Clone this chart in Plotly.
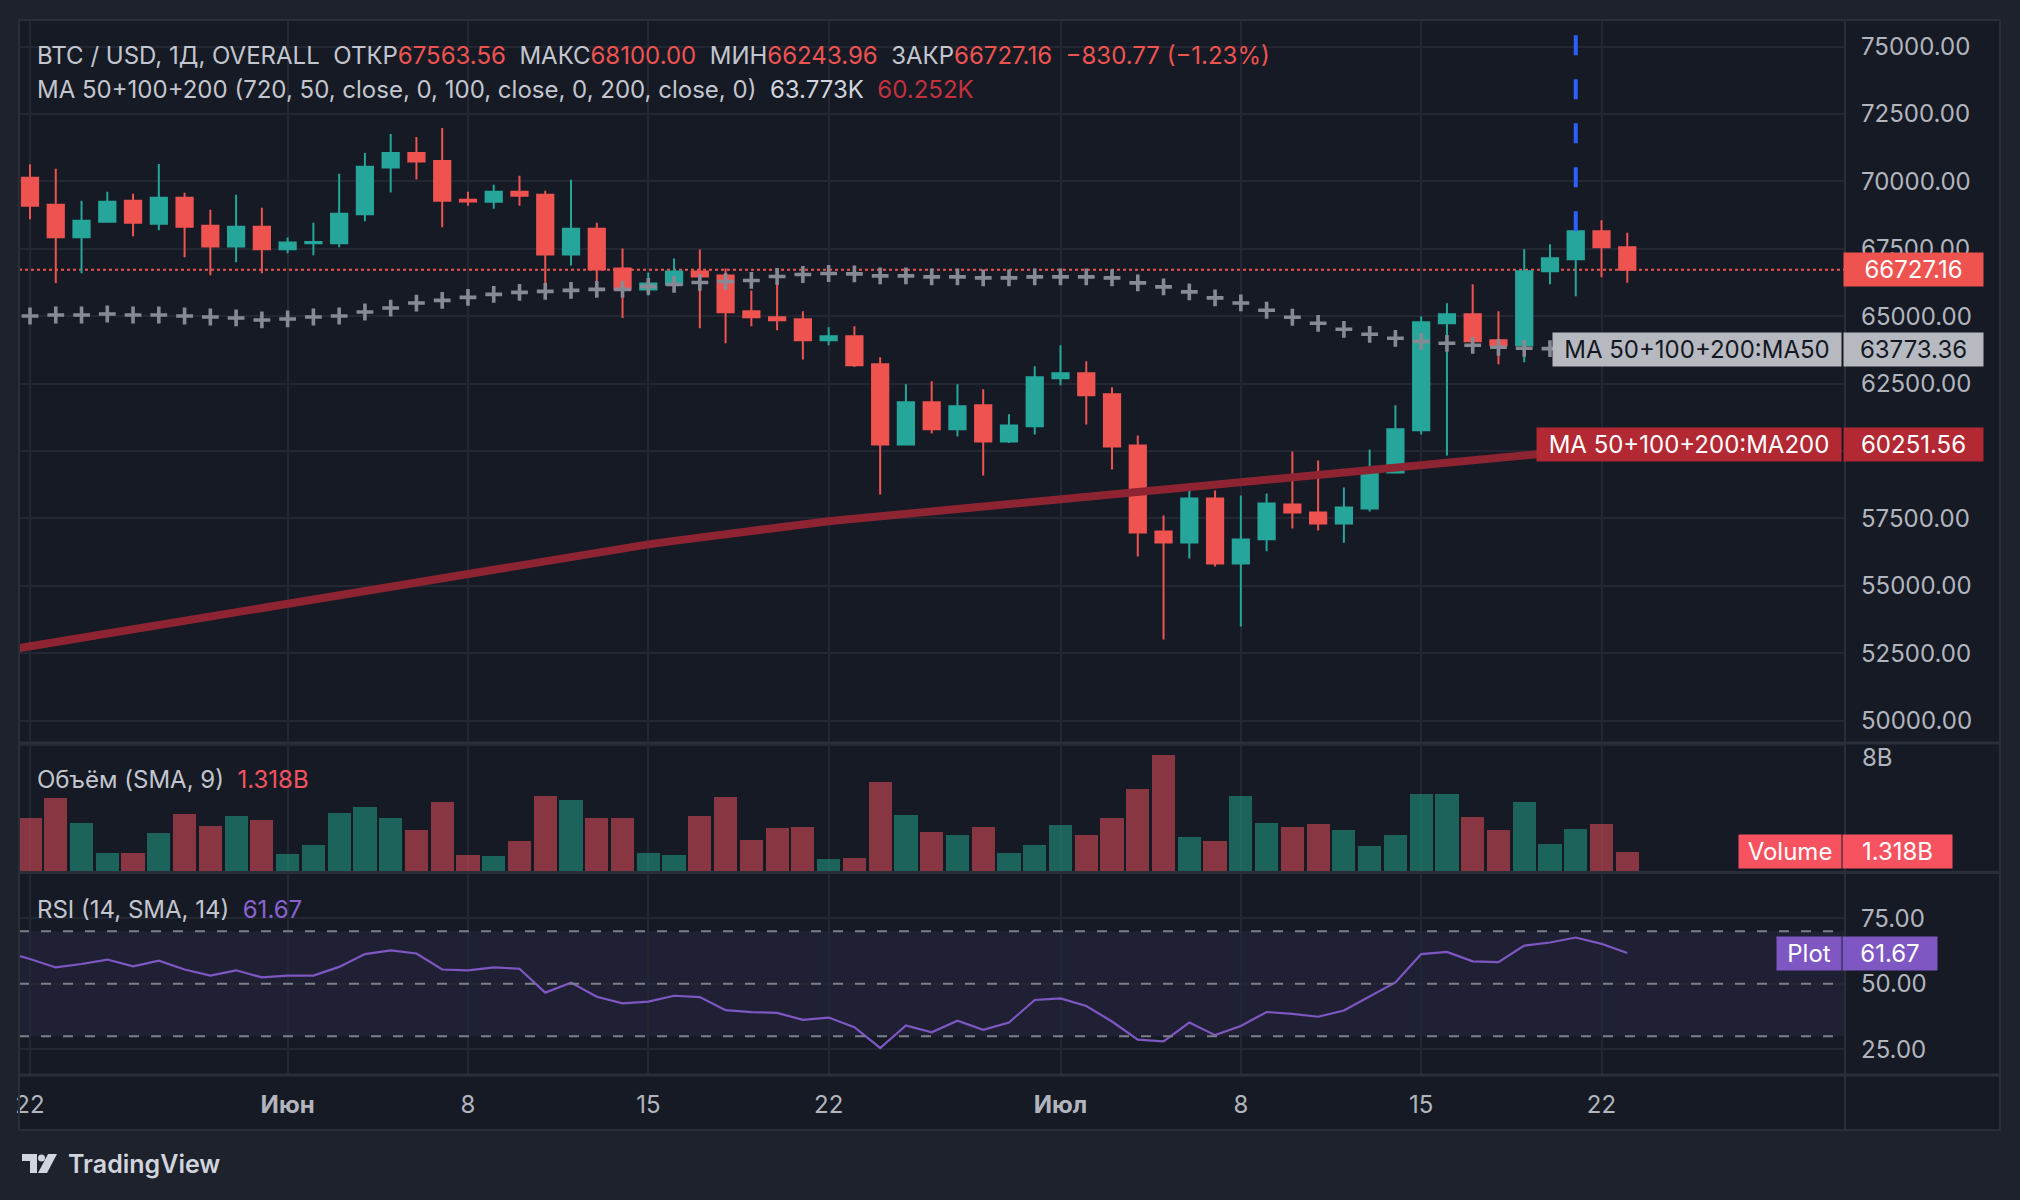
import pandas as pd
import plotly.graph_objects as go

# daily candles, May 22 - Jul 23
dates = pd.date_range("2024-05-22", "2024-07-23", freq="D")
# the line series start one day earlier so they run into the left edge
line_dates = pd.date_range("2024-05-21", "2024-07-23", freq="D")

open_ = [
    70136, 69138, 67930, 68509, 69285, 68435, 69396, 68361, 67585, 68324,
    67487, 67709, 67709, 68780, 70517, 71060, 70764, 69322, 69248, 69618,
    69507, 67290, 68250, 66772, 65996, 66181, 66661, 66513, 65183, 64961,
    64887, 64111, 64257, 63218, 60248, 61807, 60805, 61696, 60359, 60916,
    62698, 62884, 62104, 60211, 57018, 56609, 58243, 55830, 56730, 58020,
    57723, 57314, 57871, 59208, 60768, 64740, 65074, 64109, 63923, 66671,
    67116, 68156, 67563.56]
high = [
    70641, 70468, 69285, 69618, 69544, 70653, 69581, 68953, 69507, 69027,
    67918, 68472, 70283, 71060, 71762, 71651, 71984, 69618, 69877, 70209,
    69655, 70062, 68472, 67512, 66624, 67142, 67474, 66772, 65959, 66700,
    65183, 64591, 64629, 63478, 62475, 62587, 62475, 62290, 61362, 63144,
    63923, 63329, 62364, 60582, 57610, 58539, 58539, 58354, 58428, 59988,
    59654, 58651, 60062, 61696, 65000, 65483, 66188, 65186, 67488, 67673,
    68400, 68564, 68100.00]
low = [
    68596, 66230, 66600, 68472, 67967, 68189, 67191, 66526, 67006, 66600,
    67339, 67265, 67561, 68522, 69593, 70074, 68300, 69100, 68990, 69100,
    65996, 66883, 66193, 64937, 65774, 65959, 64554, 64000, 64628, 64480,
    63400, 63926, 63119, 58391, 60211, 60656, 60545, 59097, 60297, 60619,
    62438, 60990, 59320, 56089, 53008, 56015, 55718, 53491, 56280, 57129,
    57050, 56600, 57760, 59171, 60619, 59839, 63849, 63218, 63292, 66188,
    65743, 66448, 66243.96]
close = [
    69101, 67930, 68546, 69248, 68472, 69396, 68324, 67585, 68324, 67487,
    67733, 67758, 68805, 70542, 71060, 70739, 69285, 69260, 69618, 69470,
    67290, 68250, 66735, 65996, 66218, 66661, 66476, 65146, 64961, 64850,
    64111, 64259, 63181, 60248, 61807, 60805, 61659, 60359, 60953, 62735,
    62884, 62067, 60174, 56980, 56609, 58243, 55830, 56721, 58057, 57723,
    57314, 57908, 59245, 60805, 64777, 65074, 64072, 63923, 66671, 67153,
    68156, 67557.93, 66727.16]

# volume in billions
volume = [
    3.44, 4.68, 3.12, 1.23, 1.23, 2.47, 3.70, 2.92, 3.57, 3.31,
    1.17, 1.75, 3.77, 4.16, 3.44, 2.66, 4.42, 1.10, 1.04, 2.01,
    4.81, 4.55, 3.44, 3.44, 1.23, 1.10, 3.57, 4.74, 2.08, 2.79,
    2.86, 0.84, 0.91, 5.71, 3.64, 2.53, 2.34, 2.86, 1.23, 1.75,
    2.99, 2.34, 3.44, 5.26, 7.40, 2.21, 2.01, 4.81, 3.12, 2.86,
    3.05, 2.66, 1.69, 2.34, 4.94, 4.94, 3.51, 2.66, 4.42, 1.82,
    2.73, 3.05, 1.318]

ma50 = [
    65010, 65047, 65047, 65084, 65047, 65047, 65010, 64974, 64937, 64863,
    64900, 64974, 65010, 65158, 65306, 65490, 65589, 65700, 65811, 65885,
    65922, 65959, 65996, 65996, 66107, 66181, 66255, 66292, 66329, 66476,
    66550, 66587, 66572, 66498, 66498, 66460, 66460, 66423, 66423, 66460,
    66460, 66460, 66423, 66238, 66089, 65904, 65681, 65495, 65223, 64963,
    64740, 64517, 64332, 64183, 64070, 63998, 63923, 63849, 63812, 63800,
    63790, 63780, 63773.36]

ma200 = [52600,
    52760, 52920, 53080, 53240, 53400, 53560, 53720, 53880, 54040, 54200,
    54350, 54510, 54670, 54830, 54990, 55150, 55300, 55460, 55610, 55770,
    55920, 56080, 56230, 56390, 56540, 56670, 56800, 56920, 57040, 57160,
    57280, 57400, 57490, 57580, 57670, 57760, 57850, 57940, 58030, 58120,
    58210, 58300, 58390, 58470, 58550, 58630, 58710, 58790, 58880, 58970,
    59060, 59150, 59240, 59330, 59420, 59520, 59620, 59720, 59820, 59930,
    60040, 60140, 60251.56]

rsi = [62.2,
    59.4, 56.2, 57.5, 59.2, 56.6, 58.8, 55.4, 53.1, 55.1, 52.4,
    53.1, 53.1, 56.4, 61.3, 62.7, 61.5, 55.4, 55.1, 56.2, 55.7,
    46.6, 50.4, 45.0, 42.5, 43.2, 45.4, 44.9, 39.9, 39.2, 38.9,
    36.2, 37.1, 33.4, 25.5, 34.1, 31.5, 35.9, 32.4, 35.2, 43.8,
    44.4, 41.5, 35.6, 28.7, 28.0, 35.2, 30.4, 33.9, 39.2, 38.5,
    37.4, 39.8, 45.2, 50.5, 61.3, 62.1, 58.5, 58.2, 64.5, 65.7,
    67.6, 65.2, 61.67]

x_tickvals = ["2024-05-22", "2024-06-01", "2024-06-08", "2024-06-15", "2024-06-22",
              "2024-07-01", "2024-07-08", "2024-07-15", "2024-07-22"]
x_ticktext = ["22", "<b>Июн</b>", "8", "15", "22", "<b>Июл</b>", "8", "15", "22"]
price_ticks = [50000, 52500, 55000, 57500, 60000, 62500, 65000, 67500, 70000, 72500, 75000]
# 60000 sits under the MA200 tag, so only its grid line shows
price_ticktext = ["" if v == 60000 else f"{v:.2f}" for v in price_ticks]
rsi_ticks = [25, 50, 75]

UP = "#26a69a"
DOWN = "#ef5350"
BG = "#161a25"
FRAME = "#1e222d"
GRID = "#232733"
BORDER = "#2a2e39"
TXT = "#b2b5be"
FONT = "Inter, Roboto, sans-serif"
FS = 24

W, H = 2020, 1200
L, R, T, B = 19, 175, 20, 125


def px_x(px):
    return (px - L) / (W - L - R)


def px_y(py):
    return (H - B - py) / (H - T - B)


fig = go.Figure()

fig.add_trace(go.Scatter(x=line_dates, y=ma200, mode="lines", yaxis="y",
                         line=dict(color="#8e2432", width=8), hoverinfo="skip"))
fig.add_trace(go.Scatter(x=dates, y=ma50, mode="markers", yaxis="y",
                         marker=dict(symbol="cross-thin", size=12,
                                     line=dict(width=3.6, color="#878a94")),
                         hoverinfo="skip"))
fig.add_trace(go.Candlestick(x=dates, open=open_, high=high, low=low, close=close,
                             yaxis="y",
                             increasing=dict(line=dict(color=UP, width=2), fillcolor=UP),
                             decreasing=dict(line=dict(color=DOWN, width=2), fillcolor=DOWN)))

vol_colors = ["rgba(34,171,148,0.5)" if c >= o else "rgba(247,82,95,0.5)"
              for o, c in zip(open_, close)]
fig.add_trace(go.Bar(x=dates, y=volume, yaxis="y2", width=0.9 * 86400000,
                     marker=dict(color=vol_colors, line=dict(width=0))))
fig.add_trace(go.Scatter(x=line_dates, y=rsi, mode="lines", yaxis="y3",
                         line=dict(color="#7e57c2", width=2.2), hoverinfo="skip"))

axis_font = dict(family=FONT, size=FS, color=TXT)

fig.update_layout(
    width=W, height=H,
    margin=dict(l=L, r=R, t=T, b=B),
    paper_bgcolor=FRAME,
    plot_bgcolor="rgba(0,0,0,0)",
    showlegend=False,
    boxgap=0.1,
    bargap=0,
    font=dict(family=FONT, color=TXT),
    xaxis=dict(type="date", range=["2024-05-21 13:45", "2024-07-31 10:50"],
               anchor="y3", tickvals=x_tickvals, ticktext=x_ticktext,
               showgrid=True, gridcolor=GRID, gridwidth=2, zeroline=False,
               showline=False, ticks="", tickfont=axis_font, ticklabelstandoff=13,
               rangeslider=dict(visible=False)),
    yaxis=dict(domain=[0.3152, 1.0], range=[49191, 75990], side="right", anchor="x",
               tickvals=price_ticks, ticktext=price_ticktext,
               showgrid=True, gridcolor=GRID, gridwidth=2, zeroline=False,
               showline=False, ticks="", tickfont=axis_font, ticklabelstandoff=15),
    yaxis2=dict(domain=[0.1924, 0.3142], range=[0, 8.1], side="right", anchor="x",
                tickvals=[8], ticktext=[""],
                showgrid=True, gridcolor=GRID, gridwidth=2, zeroline=False,
                showline=False, ticks="", tickfont=axis_font, ticklabelstandoff=15),
    yaxis3=dict(domain=[0.0, 0.1915], range=[15.2, 92.2], side="right", anchor="x",
                tickvals=rsi_ticks, ticktext=[f"{v:.2f}" for v in rsi_ticks],
                showgrid=True, gridcolor=GRID, gridwidth=2, zeroline=False,
                showline=False, ticks="", tickfont=axis_font, ticklabelstandoff=15),
)

shapes = []
# dark chart panel behind everything
shapes.append(dict(type="rect", xref="paper", yref="paper", layer="below",
                   x0=px_x(19), x1=px_x(2000), y0=px_y(1130), y1=px_y(20),
                   fillcolor=BG, line=dict(width=0)))
# RSI band and levels
shapes.append(dict(type="rect", xref="x domain", yref="y3", layer="below",
                   x0=0, x1=1, y0=30, y1=70, fillcolor="rgba(126,87,194,0.10)",
                   line=dict(width=0)))
for lvl in [70, 50, 30]:
    shapes.append(dict(type="line", xref="x domain", yref="y3", layer="above",
                       x0=0, x1=0.9935, y0=lvl, y1=lvl,
                       line=dict(color="#7c7f89", width=2, dash="10px,12px")))
# last price line
shapes.append(dict(type="line", xref="x domain", yref="y", layer="below",
                   x0=0, x1=1, y0=close[-1], y1=close[-1],
                   line=dict(color=DOWN, width=2, dash="dot")))
# blue dashed marker on Jul 21
shapes.append(dict(type="line", xref="x", yref="y", layer="above",
                   x0="2024-07-21", x1="2024-07-21", y0=75420, y1=68160,
                   line=dict(color="#2962ff", width=4, dash="20px,24px")))
# pane separators and frame
for py in [743, 872.5, 1075]:
    shapes.append(dict(type="line", xref="paper", yref="paper", layer="above",
                       x0=px_x(19), x1=px_x(2000), y0=px_y(py), y1=px_y(py),
                       line=dict(color=BORDER, width=3)))
shapes.append(dict(type="line", xref="paper", yref="paper", layer="above",
                   x0=px_x(1845), x1=px_x(1845), y0=px_y(1130), y1=px_y(20),
                   line=dict(color=BORDER, width=2)))
shapes.append(dict(type="rect", xref="paper", yref="paper", layer="above",
                   x0=px_x(19), x1=px_x(2000), y0=px_y(1130), y1=px_y(20),
                   line=dict(color=BORDER, width=2)))


# TradingView mark
def poly(pts):
    return "M " + " L ".join(f"{px_x(a)},{px_y(b)}" for a, b in pts) + " Z"


LOGO = "#d1d4dc"
shapes.append(dict(type="path", xref="paper", yref="paper",
                   path=poly([(22, 1154), (37, 1154), (37, 1173), (30, 1173), (30, 1161), (22, 1161)]),
                   fillcolor=LOGO, line=dict(width=0)))
shapes.append(dict(type="circle", xref="paper", yref="paper",
                   x0=px_x(38), x1=px_x(45), y0=px_y(1161.5), y1=px_y(1154.5),
                   fillcolor=LOGO, line=dict(width=0)))
shapes.append(dict(type="path", xref="paper", yref="paper",
                   path=poly([(38, 1173), (48, 1154), (57, 1154), (47, 1173)]),
                   fillcolor=LOGO, line=dict(width=0)))
fig.update_layout(shapes=shapes)

NB = "\u00a0"
RED = "#ef5350"


def red(s):
    return f'<span style="color:{RED}">{s}</span>'


head1 = (f"BTC / USD, 1Д, OVERALL{NB * 2}ОТКР{red('67563.56')}{NB * 2}МАКС{red('68100.00')}"
         f"{NB * 2}МИН{red('66243.96')}{NB * 2}ЗАКР{red('66727.16')}{NB * 2}{red('−830.77 (−1.23%)')}")
head2 = (f"MA 50+100+200 (720, 50, close, 0, 100, close, 0, 200, close, 0){NB * 2}"
         f'<span style="color:#d1d4dc">63.773K</span>{NB * 2}'
         f'<span style="color:#c2313d">60.252K</span>')
vol_head = f'Объём (SMA, 9){NB * 2}<span style="color:#f7525f">1.318B</span>'
rsi_head = f'RSI (14, SMA, 14){NB * 2}<span style="color:#8a63d2">61.67</span>'

ann = []
for text, py in [(head1, 55), (head2, 89), (vol_head, 779), (rsi_head, 909)]:
    ann.append(dict(xref="paper", yref="paper", x=px_x(35), y=px_y(py),
                    xanchor="left", yanchor="middle", showarrow=False, text=text,
                    font=dict(family=FONT, size=FS, color="#c3c6ce")))

# volume scale label, sitting just under the pane edge
ann.append(dict(xref="paper", yref="paper", x=px_x(1860), y=px_y(757),
                xanchor="left", yanchor="middle", showarrow=False, text="8B",
                font=dict(family=FONT, size=FS, color=TXT)))


def tag(text, right_px, width, yref, yval, bg, fg):
    ann.append(dict(xref="paper", yref=yref, x=px_x(right_px), y=yval,
                    xanchor="right", yanchor="middle", showarrow=False,
                    text=text, width=width, height=33, align="center",
                    bgcolor=bg, borderpad=0,
                    font=dict(family=FONT, size=FS, color=fg)))


tag("66727.16", 1984, 139, "y", close[-1], RED, "#ffffff")
tag("MA 50+100+200:MA50", 1842, 288, "y", ma50[-1], "#b7b9c1", "#131722")
tag("63773.36", 1984, 139, "y", ma50[-1], "#b7b9c1", "#131722")
tag("MA 50+100+200:MA200", 1842, 304, "y", ma200[-1], "#b22833", "#ffffff")
tag("60251.56", 1984, 139, "y", ma200[-1], "#b22833", "#ffffff")
tag("Volume", 1842, 102, "y2", volume[-1], "#f7525f", "#ffffff")
tag("1.318B", 1953, 109, "y2", volume[-1], "#f7525f", "#ffffff")
tag("Plot", 1842, 64, "y3", rsi[-1], "#7e57c2", "#ffffff")
tag("61.67", 1938, 94, "y3", rsi[-1], "#7e57c2", "#ffffff")

ann.append(dict(xref="paper", yref="paper", x=px_x(66), y=px_y(1164),
                xanchor="left", yanchor="middle", showarrow=False, text="TradingView",
                font=dict(family=FONT, size=25, color=LOGO, weight=600)))
fig.update_layout(annotations=ann)

# drop the default page margin so the figure sits at the window corner
fig.write_html("out.html", config={"displayModeBar": False},
               post_script="document.body.style.margin='0px';")
